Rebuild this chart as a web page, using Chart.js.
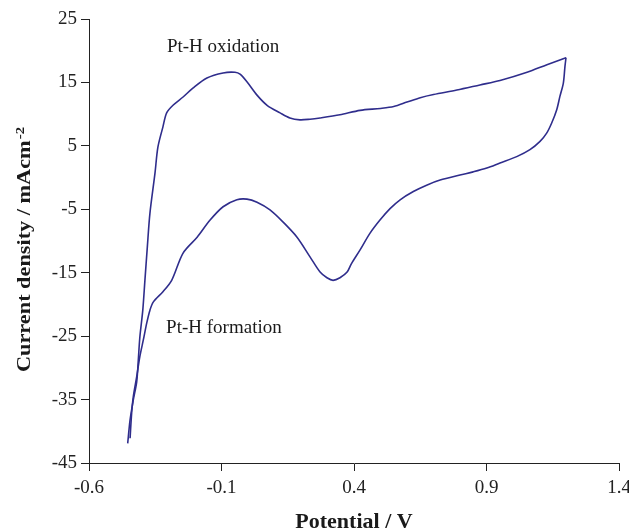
<!DOCTYPE html>
<html>
<head>
<meta charset="utf-8">
<script src="https://cdn.jsdelivr.net/npm/chart.js@4"></script>
<style>
  body { margin: 0; background: #fff; }
  #wrap { width: 629px; height: 530px; position: relative; }
</style>
</head>
<body>
<div id="wrap"><canvas id="cvChart"></canvas></div>
<script>
// forward (anodic) sweep: potential / V and current density / mA cm-2
const anodicV = [-0.454, -0.445, -0.433, -0.420, -0.414, -0.408, -0.397, -0.389, -0.380, -0.370,
  -0.351, -0.340, -0.321, -0.307, -0.283, -0.245, -0.208, -0.155, -0.094, -0.049,
  -0.030, -0.004, 0.034, 0.072, 0.121, 0.158, 0.196, 0.234, 0.272, 0.347,
  0.423, 0.500, 0.550, 0.600, 0.650, 0.700, 0.788, 0.875, 0.951, 1.053, 1.128, 1.200];
const anodicI = [-41.9, -38.2, -35.1, -32.2, -28.8, -25.1, -20.9, -16.2, -11.0, -5.6,
  0.7, 4.8, 8.0, 10.2, 11.4, 12.7, 14.1, 15.7, 16.5, 16.6,
  16.3, 15.1, 13.0, 11.4, 10.2, 9.4, 9.1, 9.2, 9.4, 9.9,
  10.6, 10.9, 11.2, 11.9, 12.6, 13.1, 13.8, 14.6, 15.3, 16.6, 17.8, 18.9];

// reverse (cathodic) sweep
const cathodicV = [1.200, 1.196, 1.190, 1.177, 1.165, 1.146, 1.127, 1.102, 1.064, 1.014,
  0.951, 0.901, 0.850, 0.800, 0.725, 0.674, 0.624, 0.574, 0.536, 0.498,
  0.460, 0.423, 0.390, 0.374, 0.347, 0.321, 0.298, 0.272, 0.234, 0.185,
  0.132, 0.083, 0.034, -0.004, -0.042, -0.094, -0.143, -0.192, -0.245, -0.288,
  -0.321, -0.357, -0.370, -0.382, -0.395, -0.408, -0.420, -0.433, -0.439, -0.445];
const cathodicI = [18.9, 17.5, 14.9, 12.8, 10.7, 8.6, 7.0, 5.7, 4.4, 3.3,
  2.3, 1.5, 0.9, 0.4, -0.4, -1.2, -2.2, -3.5, -4.9, -6.7,
  -8.8, -11.4, -13.6, -14.9, -15.8, -16.2, -15.8, -14.9, -12.5, -9.4,
  -7.0, -5.1, -3.9, -3.4, -3.5, -4.6, -6.7, -9.4, -11.9, -16.2,
  -18.0, -19.6, -20.9, -22.9, -25.6, -28.2, -31.4, -34.6, -37.1, -41.1];

const xTicks = [-0.6, -0.1, 0.4, 0.9, 1.4];
const yTicks = [-45, -35, -25, -15, -5, 5, 15, 25];

const noteTexts = ['Pt-H oxidation', 'Pt-H formation'];
const noteV = [-0.306, -0.309];
const noteI = [19.8, -24.5];

const lineColor = '#2f2d8c';
const axisColor = '#222';
const serif = '"Liberation Serif", "Times New Roman", serif';

const toPoints = (xs, ys) => xs.map((v, i) => ({ x: v, y: ys[i] }));

// labels inside the plot and the two axis titles
const textPlugin = {
  id: 'cvText',
  afterDraw(chart) {
    const { ctx, chartArea, scales } = chart;
    ctx.save();
    ctx.fillStyle = '#1a1a1a';
    ctx.textBaseline = 'alphabetic';

    ctx.font = '19px ' + serif;
    ctx.textAlign = 'left';
    noteTexts.forEach((t, i) => {
      ctx.fillText(t, scales.x.getPixelForValue(noteV[i]), scales.y.getPixelForValue(noteI[i]));
    });

    ctx.font = 'bold 22px ' + serif;
    ctx.textAlign = 'center';
    ctx.fillText('Potential / V', (chartArea.left + chartArea.right) / 2, 528);

    // y title, rotated, with superscript -2
    const main = 'Current density / mAcm';
    const sup = '-2';
    ctx.font = 'bold 18px ' + serif;
    const w1 = ctx.measureText(main).width;
    ctx.font = 'bold 12px ' + serif;
    const w2 = ctx.measureText(sup).width;
    const sx = 244 / (w1 + w2);
    ctx.translate(30, 372);
    ctx.rotate(-Math.PI / 2);
    ctx.scale(sx, 1);
    ctx.textAlign = 'left';
    ctx.font = 'bold 18px ' + serif;
    ctx.fillText(main, 0, 0);
    ctx.font = 'bold 12px ' + serif;
    ctx.fillText(sup, w1 + 1, -6);
    ctx.restore();
  }
};

Chart.defaults.font.family = serif;

new Chart(document.getElementById('cvChart'), {
  type: 'scatter',
  data: {
    datasets: [{
      label: 'Anodic sweep',
      data: toPoints(anodicV, anodicI),
      showLine: true,
      borderColor: lineColor,
      borderWidth: 1.6,
      pointRadius: 0,
      tension: 0.3
    }, {
      label: 'Cathodic sweep',
      data: toPoints(cathodicV, cathodicI),
      showLine: true,
      borderColor: lineColor,
      borderWidth: 1.6,
      pointRadius: 0,
      tension: 0.3
    }]
  },
  options: {
    responsive: true,
    maintainAspectRatio: false,
    animation: false,
    layout: { padding: { top: 19, right: 10, bottom: 0, left: 0 } },
    plugins: {
      legend: { display: false },
      tooltip: { enabled: false }
    },
    scales: {
      x: {
        type: 'linear',
        min: -0.6,
        max: 1.4,
        afterBuildTicks: s => { s.ticks = xTicks.map(v => ({ value: v })); },
        afterFit: s => { s.height = 67; s.paddingLeft = 0; s.paddingRight = 0; },
        ticks: {
          color: axisColor,
          font: { size: 19 },
          padding: 6,
          maxRotation: 0,
          callback: v => v.toFixed(1)
        },
        grid: { drawOnChartArea: false, tickLength: 8, color: axisColor },
        border: { color: axisColor, width: 1 }
      },
      y: {
        type: 'linear',
        min: -45,
        max: 25,
        afterBuildTicks: s => { s.ticks = yTicks.map(v => ({ value: v })); },
        afterFit: s => { s.width = 89; },
        ticks: {
          color: axisColor,
          font: { size: 19 },
          padding: 4,
          callback: v => String(v)
        },
        grid: { drawOnChartArea: false, tickLength: 8, color: axisColor },
        border: { color: axisColor, width: 1 }
      }
    }
  },
  plugins: [textPlugin]
});
</script>
</body>
</html>
